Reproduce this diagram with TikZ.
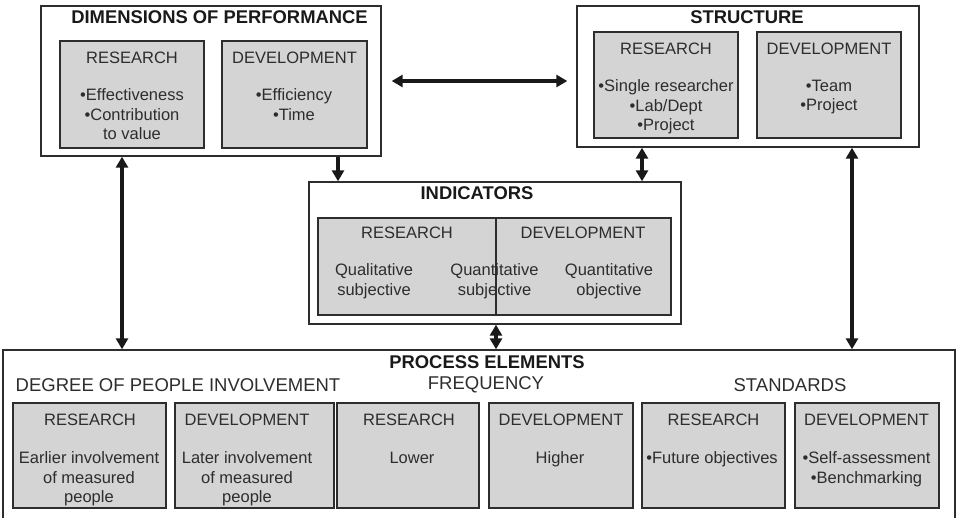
\documentclass[tikz,border=0pt]{standalone}
\usepackage{fontspec}
\setmainfont{Liberation Sans}
\usetikzlibrary{arrows.meta}
\definecolor{boxgray}{RGB}{212,212,212}
\definecolor{ink}{RGB}{45,45,45}
\definecolor{txt}{RGB}{45,45,45}

\begin{document}
\begin{tikzpicture}[x=1pt,y=-1pt,
  >={Triangle[width=12pt,length=11pt]},
  outerbox/.style={draw=ink, line width=1.4pt, fill=white, inner sep=0pt},
  innerbox/.style={draw=ink, line width=1.4pt, fill=boxgray, inner sep=0pt},
  title/.style={font=\fontsize{18.4}{21}\selectfont\bfseries, text=black!90, inner sep=0pt},
  subhead/.style={font=\fontsize{18.5}{21}\selectfont, text=txt, inner sep=0pt},
  head/.style={font=\fontsize{16.5}{19.5}\selectfont, text=txt, inner sep=0pt},
  body/.style={font=\fontsize{16.5}{19.5}\selectfont, text=txt, inner sep=0pt, align=center, anchor=north},
  link/.style={line width=3.2pt, draw=black!90},
  ]
\useasboundingbox (0,0) rectangle (957,517);

% ---------- Dimensions of performance ----------
\node[outerbox, minimum width=340pt, minimum height=150pt] (dim) at (211,81) {};
\node[title] (dimT) at (219.5,17) {DIMENSIONS OF PERFORMANCE};
\node[innerbox, minimum width=144pt, minimum height=107pt] (dimR) at (132,94.5) {};
\node[innerbox, minimum width=145pt, minimum height=107pt] (dimD) at (294.5,94.5) {};
\node[head] (dimRh) at (132,58) {RESEARCH};
\node[head] (dimDh) at (294.5,58) {DEVELOPMENT};
\node[body] (dimRb) at (132,88.5) {•Effectiveness\\•Contribution\\to value};
\node[body] (dimDb) at (294,88.5) {•Efficiency\\•Time};

% ---------- Structure ----------
\node[outerbox, minimum width=342pt, minimum height=141pt] (str) at (748,76.5) {};
\node[title] (strT) at (747,17) {STRUCTURE};
\node[innerbox, minimum width=144pt, minimum height=106pt] (strR) at (666,85) {};
\node[innerbox, minimum width=144pt, minimum height=106pt] (strD) at (829,85) {};
\node[head] (strRh) at (666,49) {RESEARCH};
\node[head] (strDh) at (829,49) {DEVELOPMENT};
\node[body] (strRb) at (666,79.5) {•Single researcher\\•Lab/Dept\\•Project};
\node[body] (strDb) at (829,79.5) {•Team\\•Project};

% ---------- Indicators ----------
\node[outerbox, minimum width=372pt, minimum height=142pt] (ind) at (495,253) {};
\node[title] (indT) at (477,193) {INDICATORS};
\node[innerbox, minimum width=353pt, minimum height=97pt] (indG) at (494.5,266.5) {};
\coordinate (xI) at (496,0);
\draw[ink, line width=1.4pt] (indG.north -| xI) -- (indG.south -| xI);
\node[head] (indRh) at (407,233) {RESEARCH};
\node[head] (indDh) at (583,233) {DEVELOPMENT};
\node[body] (indA) at (374,263.5) {Qualitative\\subjective};
\node[body] (indB) at (494.5,263.5) {Quantitative\\subjective};
\node[body] (indC) at (609,263.5) {Quantitative\\objective};

% ---------- Process elements ----------
\node[outerbox, minimum width=952pt, minimum height=172pt] (proc) at (479,436) {};
\node[title] (procT) at (487,362) {PROCESS ELEMENTS};
\node[subhead] (degH) at (178,385) {DEGREE OF PEOPLE INVOLVEMENT};
\node[subhead] (freqH) at (486,385) {FREQUENCY};
\node[subhead] (stdH) at (790,385) {STANDARDS};

\node[innerbox, minimum width=153pt, minimum height=105pt] (p1) at (89.5,455.5) {};
\node[innerbox, minimum width=159pt, minimum height=105pt] (p2) at (254.5,455.5) {};
\node[innerbox, minimum width=142pt, minimum height=105pt] (p3) at (408,455.5) {};
\node[innerbox, minimum width=144pt, minimum height=105pt] (p4) at (561,455.5) {};
\node[innerbox, minimum width=143pt, minimum height=105pt] (p5) at (713.5,455.5) {};
\node[innerbox, minimum width=144pt, minimum height=105pt] (p6) at (867,455.5) {};

\node[head] (p1h) at (90,420) {RESEARCH};
\node[head] (p2h) at (247,420) {DEVELOPMENT};
\node[head] (p3h) at (409,420) {RESEARCH};
\node[head] (p4h) at (561,420) {DEVELOPMENT};
\node[head] (p5h) at (713.5,420) {RESEARCH};
\node[head] (p6h) at (866.5,420) {DEVELOPMENT};

\node[body] (p1b) at (89,451.5) {Earlier involvement\\of measured\\people};
\node[body] (p2b) at (247,451.5) {Later involvement\\of measured\\people};
\node[body] (p3b) at (412,451.5) {Lower};
\node[body] (p4b) at (560,451.5) {Higher};
\node[body] (p5b) at (712,451.5) {•Future objectives};
\node[body] (p6b) at (866.5,451.5) {•Self-assessment\\•Benchmarking};

% ---------- Connectors ----------
\coordinate (xL) at (122,0);
\coordinate (xR) at (852,0);
\coordinate (xD) at (338,0);
\coordinate (xS) at (642,0);
\draw[link,<->, shorten <=10pt, shorten >=9pt] (dim.east) -- (dim.east -| str.west);
\draw[link,->] (dim.south -| xD) -- (ind.north -| xD);
\draw[link,<->] (str.south -| xS) -- (ind.north -| xS);
\draw[link,<->] (ind.south -| xI) -- (proc.north -| xI);
\draw[link,<->] (dim.south -| xL) -- (proc.north -| xL);
\draw[link,<->] (str.south -| xR) -- (proc.north -| xR);
\end{tikzpicture}
\end{document}
